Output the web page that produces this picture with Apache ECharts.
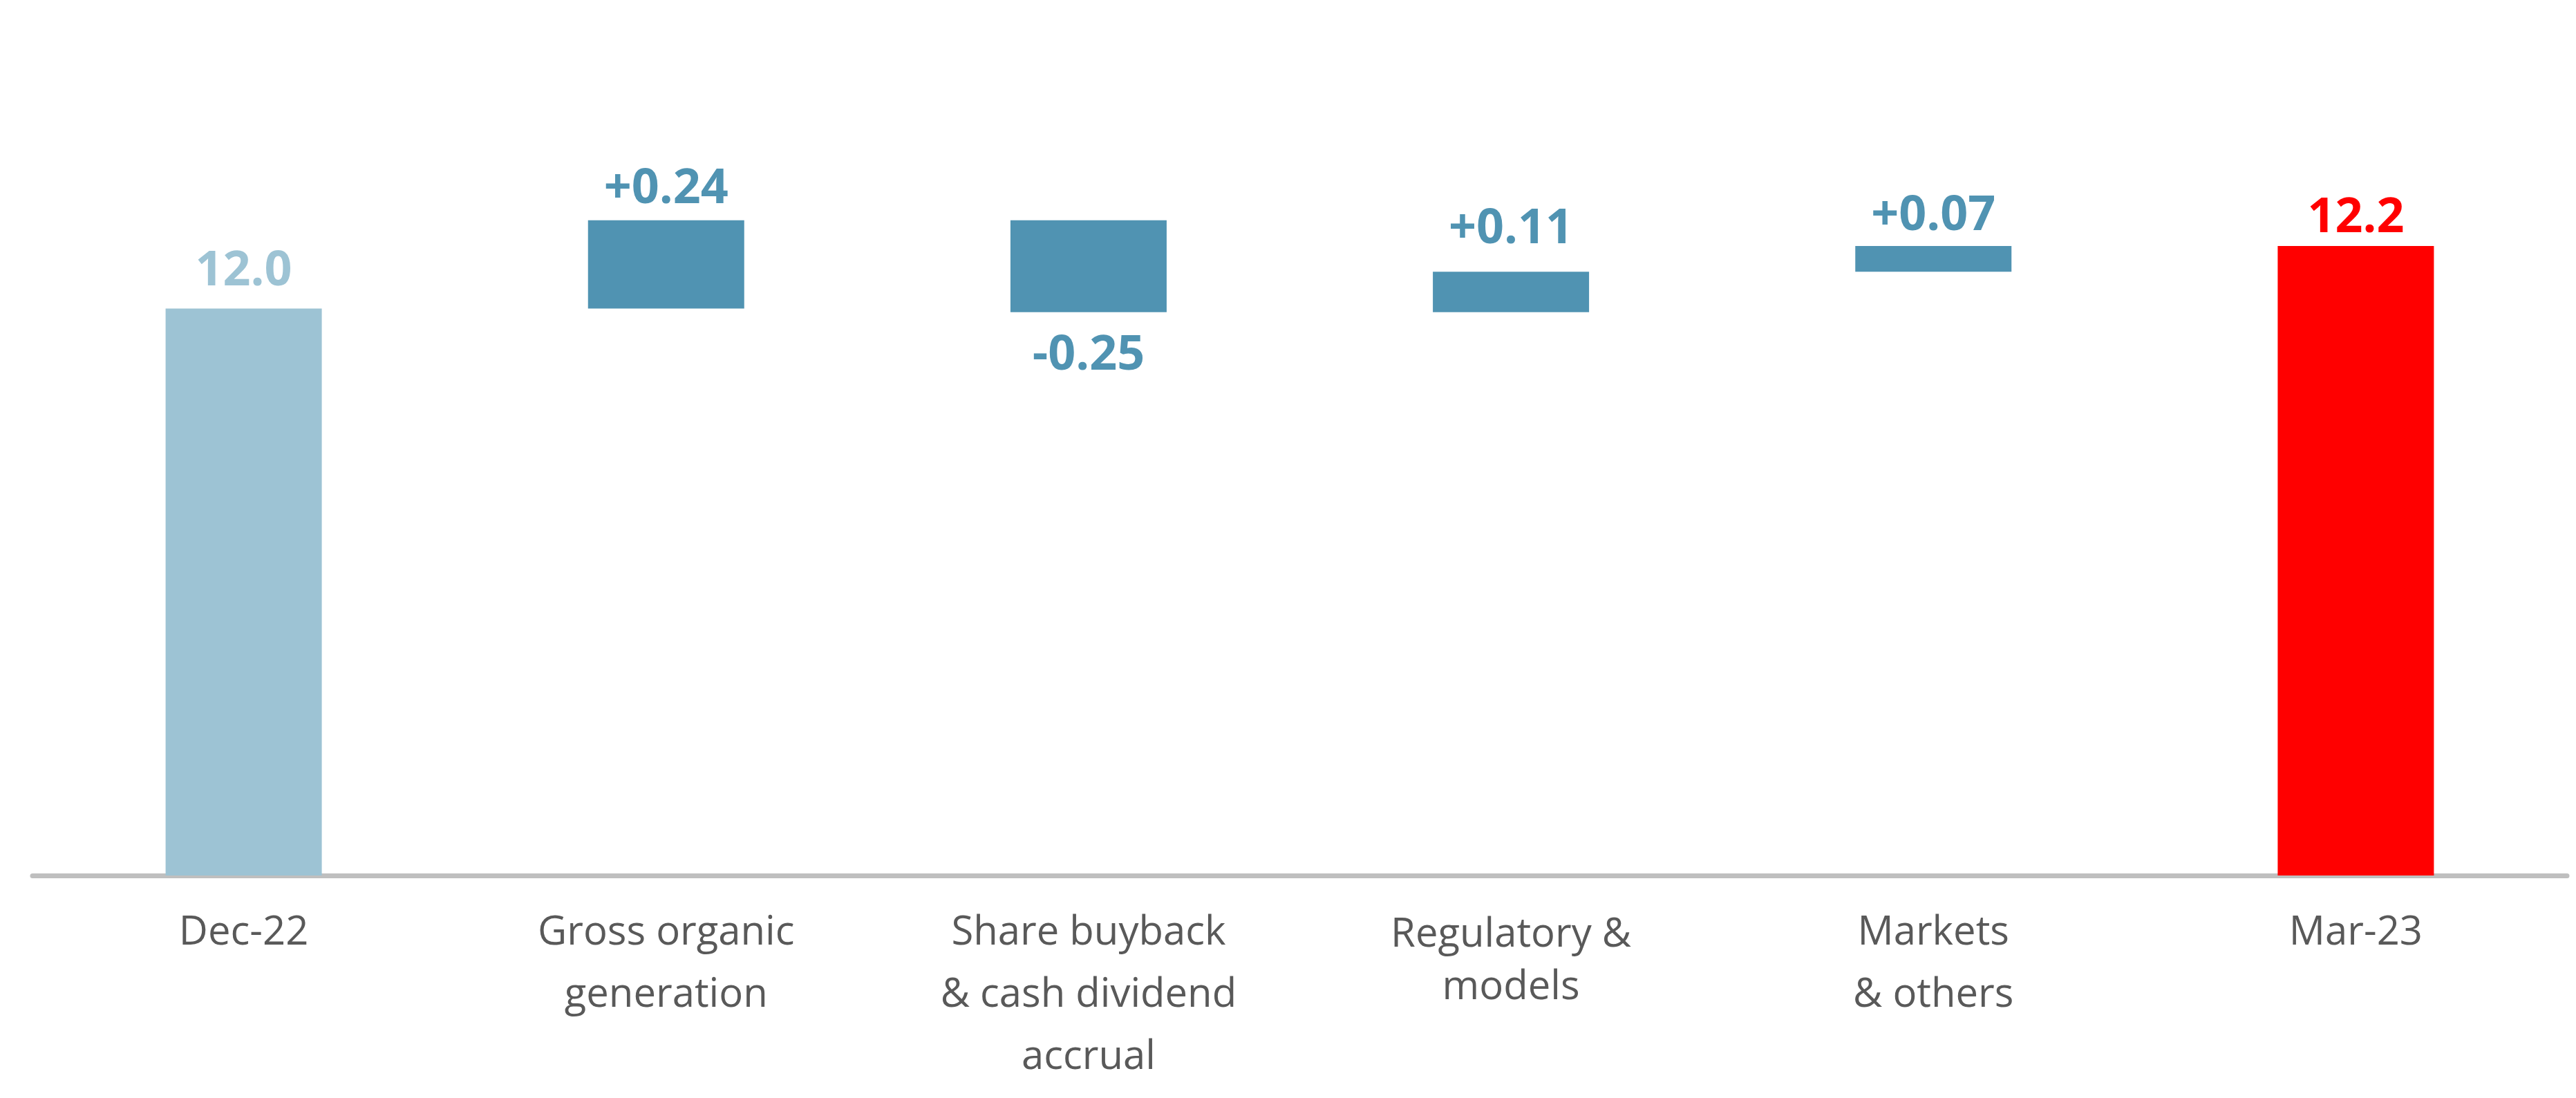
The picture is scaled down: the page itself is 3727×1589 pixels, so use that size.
<!DOCTYPE html>
<html>
<head>
<meta charset="utf-8">
<script src="https://cdn.jsdelivr.net/npm/echarts@6/dist/echarts.min.js"></script>
<style>
html,body{margin:0;padding:0;background:#ffffff;}
#chart{width:3727px;height:1589px;}
</style>
</head>
<body>
<div id="chart"></div>
<script>
// ---- data ----
const categories = ['Dec-22', 'Gross organic\ngeneration', 'Share buyback\n& cash dividend\naccrual', 'Regulatory &\nmodels', 'Markets\n& others', 'Mar-23'];
const startValue = 12.0;                       // Dec-22 total
const changes = [0.24, -0.25, 0.11, 0.07];      // movements between the two totals

// ---- build waterfall (base + visible height) ----
const baseData = [0];
const barData = [startValue];
const signed = [startValue];
let running = startValue;
changes.forEach(c => {
  const next = running + c;
  baseData.push(Math.min(running, next));
  barData.push(Math.abs(c));
  signed.push(c);
  running = next;
});
const endValue = running;
baseData.push(0);
barData.push(endValue);
signed.push(endValue);

const FONT = '"Open Sans", "Noto Sans", sans-serif';
const cLight = '#9DC3D4', cDelta = '#5093B2', cRed = '#FF0000';
const labelDist = [17, 9, 27, 25, 7, 4];

const visible = barData.map((v, i) => {
  const isFirst = i === 0, isLast = i === barData.length - 1;
  const col = isFirst ? cLight : (isLast ? cRed : cDelta);
  const neg = !isFirst && !isLast && signed[i] < 0;
  return {
    value: v,
    itemStyle: { color: col },
    label: {
      show: true,
      position: neg ? 'bottom' : 'top',
      distance: labelDist[i],
      color: col,
      fontFamily: FONT,
      fontWeight: 'bold',
      fontSize: 70,
      lineHeight: 72,
      formatter: () => (isFirst || isLast) ? signed[i].toFixed(1)
        : (signed[i] > 0 ? '+' : '') + signed[i].toFixed(2)
    }
  };
});

const chart = echarts.init(document.getElementById('chart'), null, { renderer: 'canvas' });
chart.setOption({
  backgroundColor: '#ffffff',
  animation: false,
  grid: { left: 47, right: 13, top: 97, bottom: 322, containLabel: false },
  xAxis: {
    type: 'category',
    data: categories,
    axisLine: { show: true, lineStyle: { color: '#BFBFBF', width: 7 } },
    axisTick: { show: false },
    axisLabel: {
      interval: 0,
      margin: 38,
      formatter: (val) => {
        const lines = val.split('\n');
        if (val.indexOf('Regulatory') === 0) {
          return lines.map((s, k) => '{' + (k === 0 ? 'b1' : 'b2') + '|' + s + '}').join('\n');
        }
        return lines.map(s => '{a|' + s + '}').join('\n');
      },
      rich: {
        a: { fontFamily: FONT, fontSize: 58, lineHeight: 90, color: '#595959' },
        b1: { fontFamily: FONT, fontSize: 58, lineHeight: 96, color: '#595959' },
        b2: { fontFamily: FONT, fontSize: 58, lineHeight: 56, color: '#595959' }
      }
    }
  },
  yAxis: {
    type: 'value',
    min: 10.457,
    max: 12.657,
    show: false,
    splitLine: { show: false }
  },
  series: [
    {
      name: 'base',
      type: 'bar',
      stack: 'wf',
      barWidth: 226,
      silent: true,
      itemStyle: { color: 'transparent' },
      data: baseData
    },
    {
      name: 'value',
      type: 'bar',
      stack: 'wf',
      barWidth: 226,
      clip: true,
      data: visible
    }
  ]
});
</script>
</body>
</html>
